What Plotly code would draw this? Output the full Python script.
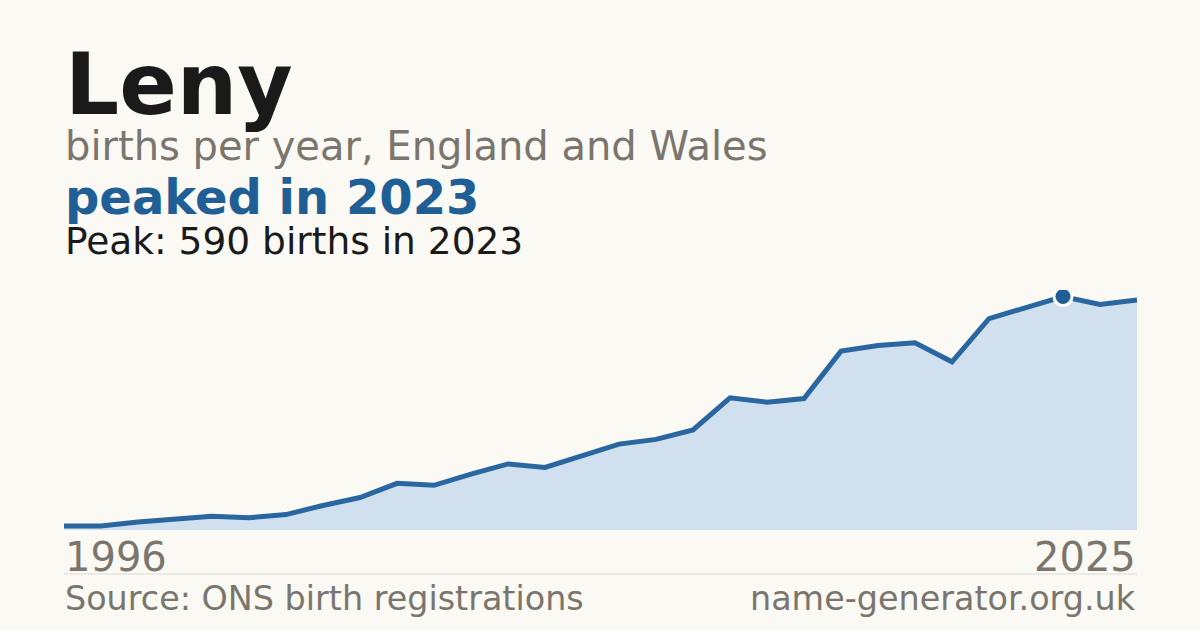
import plotly.graph_objects as go

years = list(range(1996, 2026))
births = [10, 10, 20, 27, 35, 31, 39, 62, 82, 118,
          113, 141, 167, 158, 188, 217, 229, 253, 334, 323,
          332, 452, 466, 473, 425, 534, 562, 590, 570, 581]
peak_year = 2023
peak_value = 590

title_text = "Leny"
subtitle_text = "births per year, England and Wales"
headline_text = "peaked in 2023"
detail_text = "Peak: 590 births in 2023"
start_label = "1996"
end_label = "2025"
source_text = "Source: ONS birth registrations"
site_text = "name-generator.org.uk"

BG = "#faf9f4"
BLUE = "#2a66a0"
DARK_BLUE = "#1f5f96"
FILL = "#d0e0ef"
GREY = "#7a756d"
INK = "#1a1a1a"
FONT = "DejaVu Sans"

W, H = 1200, 630
TOP, BOTTOM = 290, 530  # plot area pixel rows
PH = BOTTOM - TOP


def py_to_paper(py):
    return (BOTTOM - py) / PH


def baseline_bottom(baseline, size):
    return py_to_paper(baseline + 0.236 * size + 3)


fig = go.Figure()
fig.add_trace(go.Scatter(
    x=years, y=births, mode="lines",
    line=dict(color=BLUE, width=5),
    fill="tozeroy", fillcolor=FILL,
    hoverinfo="skip", showlegend=False,
))
fig.add_trace(go.Scatter(
    x=[peak_year], y=[peak_value], mode="markers",
    marker=dict(symbol="circle", size=18, color=DARK_BLUE,
                line=dict(color="white", width=3)),
    hoverinfo="skip", showlegend=False,
))

ann = []


def add_text(text, x, xref, xanchor, baseline, size, color, bold=False):
    ann.append(dict(
        text=f"<b>{text}</b>" if bold else text,
        x=x, xref=xref, xanchor=xanchor,
        xshift=-1 if xanchor == "left" else 1,
        y=baseline_bottom(baseline, size), yref="paper", yanchor="bottom",
        showarrow=False, align="left",
        font=dict(family=FONT, size=size, color=color),
    ))


add_text(title_text, 0, "paper", "left", 113, 85, INK, bold=True)
add_text(subtitle_text, 0, "paper", "left", 159, 40, GREY)
add_text(headline_text, 0, "paper", "left", 213, 48, DARK_BLUE, bold=True)
add_text(detail_text, 0, "paper", "left", 253, 37.5, INK)
add_text(start_label, years[0], "x", "left", 570, 40, GREY)
add_text(end_label, years[-1], "x", "right", 570, 40, GREY)
add_text(source_text, 0, "paper", "left", 609, 33.4, GREY)
add_text(site_text, 1, "paper", "right", 609, 33.4, GREY)

fig.update_layout(
    width=W, height=H,
    paper_bgcolor=BG, plot_bgcolor=BG,
    margin=dict(l=64, r=63, t=TOP, b=H - BOTTOM, pad=0),
    xaxis=dict(range=[years[0], years[-1]], visible=False, fixedrange=True),
    yaxis=dict(range=[0, peak_value * PH / 233.5], visible=False, fixedrange=True),
    annotations=ann,
    shapes=[
        dict(type="line", xref="paper", yref="paper", x0=0, x1=1,
             y0=py_to_paper(574), y1=py_to_paper(574),
             line=dict(color="#dcd9d2", width=1)),
        dict(type="line", xref="paper", yref="y", x0=0, x1=1, y0=0, y1=0,
             line=dict(color="#e2dfd8", width=1), layer="below"),
    ],
    showlegend=False,
)

fig.write_html(
    "out.html",
    config=dict(displayModeBar=False),
    post_script="document.body.style.margin='0';document.body.style.background='%s';" % BG,
)
